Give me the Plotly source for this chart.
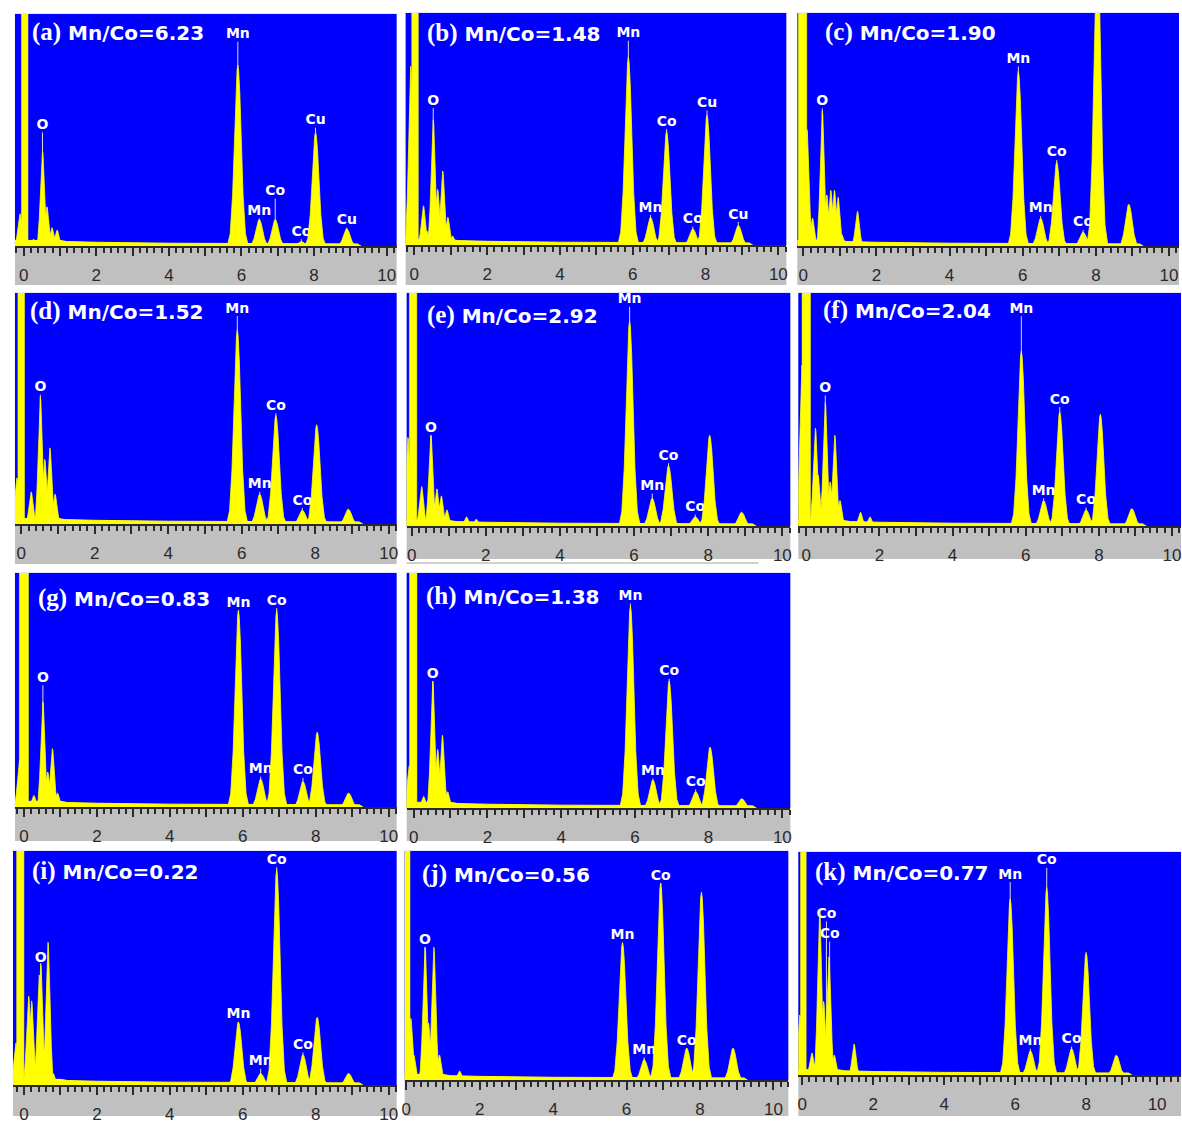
import plotly.graph_objects as go

# ---------------- data ----------------
PANEL_IDS = ["a", "b", "c", "d", "e", "f", "g", "h", "i", "j", "k"]
RATIOS = ["6.23", "1.48", "1.90", "1.52", "2.92", "2.04", "0.83", "1.38", "0.22", "0.56", "0.77"]

# x-axis tick labels (keV)
TICK_VALS = [0, 1, 2, 3, 4, 5, 6, 7, 8, 9, 10]
TICK_TEXT = ["0", "", "2", "", "4", "", "6", "", "8", "", "10"]

# zero-energy (noise) peak: centre and width in keV
ZERO_C = [0.03, 0.02, -0.02, 0.00, 0.04, 0.00, 0.00, -0.01, -0.10, 0.03, 0.03]
ZERO_W = [0.18, 0.18, 0.23, 0.18, 0.20, 0.23, 0.25, 0.20, 0.20, 0.14, 0.16]

# continuum background (keV, % of full scale)
BG_E = [-0.4, 1.0, 1.2, 2.0, 4.0, 5.6, 9.2, 9.3]
BG_H = [2.5, 2.5, 2.0, 1.7, 1.3, 1.2, 1.0, 0.0]

# peaks: energy (keV) and height (% of full scale) per panel
PEAK_E_A = [-0.10, 0.27, 0.52, 0.64, 0.78, 0.92, 5.90, 6.49, 6.93, 7.65, 8.04, 8.90]
PEAK_H_A = [14, 3, 41, 17, 8, 7, 78, 11.5, 11.5, 2, 49, 7.5]
PEAK_E_B = [-0.10, 0.25, 0.35, 0.52, 0.64, 0.78, 0.92, 1.05, 5.88, 6.49, 6.93, 7.65, 8.04, 8.90]
PEAK_H_B = [77, 17, 6, 54, 24, 32, 12, 4, 81, 12, 49, 7, 56, 8.5]
PEAK_E_C = [0.10, 0.25, 0.52, 0.64, 0.75, 0.85, 0.95, 1.05, 1.48, 5.88, 6.49, 6.93, 7.65, 8.04, 8.90]
PEAK_H_C = [50, 12, 58, 22, 24, 24, 21, 5, 15, 75, 12, 36, 6, 130, 18]
PEAK_E_D = [-0.12, 0.27, 0.52, 0.64, 0.78, 0.92, 5.88, 6.49, 6.93, 7.65, 8.04, 8.90]
PEAK_H_D = [20, 14, 55, 28, 33, 13, 84, 13, 47, 6, 43, 6.5]
PEAK_E_E = [-0.10, 0.27, 0.52, 0.68, 0.80, 0.95, 1.48, 1.74, 5.88, 6.49, 6.93, 7.65, 8.04, 8.90]
PEAK_H_E = [38, 17, 39, 16, 13, 7, 4, 3, 88, 12, 26, 4, 39, 6]
PEAK_E_F = [-0.12, 0.25, 0.32, 0.52, 0.65, 0.78, 0.92, 1.48, 1.74, 5.88, 6.49, 6.93, 7.65, 8.04, 8.90]
PEAK_H_F = [69, 42, 22, 53, 19, 39, 11, 6, 4, 75, 11, 49, 7, 48, 7.5]
PEAK_E_G = [-0.12, 0.27, 0.52, 0.65, 0.78, 0.92, 5.88, 6.49, 6.93, 7.65, 8.04, 8.90]
PEAK_H_G = [20, 5, 45, 15, 25, 6, 84, 12, 84, 11, 32, 6]
PEAK_E_H = [-0.12, 0.27, 0.52, 0.65, 0.78, 0.92, 5.88, 6.49, 6.93, 7.65, 8.04, 8.90]
PEAK_H_H = [18, 5, 54, 25, 31, 7, 86, 12, 54, 7, 26, 4]
PEAK_E_I = [-0.22, 0.13, 0.21, 0.42, 0.46, 0.56, 0.66, 0.80, 5.88, 6.49, 6.93, 7.65, 8.04, 8.90]
PEAK_H_I = [18, 38, 36, 47, 52, 15, 61, 5, 27, 5, 92, 13, 29, 5]
PEAK_E_J = [0.12, 0.20, 0.51, 0.60, 0.75, 0.90, 1.45, 5.89, 6.48, 6.93, 7.64, 8.04, 8.90]
PEAK_H_J = [27, 11, 58, 25, 58, 11, 4, 60, 9, 86, 14, 82, 14]
PEAK_E_K = [-0.07, 0.27, 0.49, 0.60, 0.75, 0.90, 1.46, 5.86, 6.43, 6.89, 7.59, 8.00, 8.85]
PEAK_H_K = [27, 10, 74, 33, 53, 9, 14, 79, 11, 84, 12, 55, 9]

# element marker labels: text, energy (keV), label height (% of full scale)
LAB_T_A = ["O", "Mn", "Mn", "Co", "Co", "Cu", "Cu"]
LAB_E_A = [0.52, 5.90, 6.49, 6.93, 7.65, 8.04, 8.90]
LAB_H_A = [52, 91, 15, 23.5, 6, 54, 11]
LAB_T_B = ["O", "Mn", "Mn", "Co", "Co", "Cu", "Cu"]
LAB_E_B = [0.52, 5.88, 6.49, 6.93, 7.65, 8.04, 8.90]
LAB_H_B = [62, 91, 16, 53, 11, 61, 13]
LAB_T_C = ["O", "Mn", "Mn", "Co", "Co"]
LAB_E_C = [0.52, 5.88, 6.49, 6.93, 7.65]
LAB_H_C = [62, 80, 16, 40, 10]
LAB_T_D = ["O", "Mn", "Mn", "Co", "Co"]
LAB_E_D = [0.52, 5.88, 6.49, 6.93, 7.65]
LAB_H_D = [59, 93, 17, 51, 10]
LAB_T_E = ["O", "Mn", "Mn", "Co", "Co"]
LAB_E_E = [0.52, 5.88, 6.49, 6.93, 7.65]
LAB_H_E = [42, 97, 17, 30, 8]
LAB_T_F = ["O", "Mn", "Mn", "Co", "Co"]
LAB_E_F = [0.52, 5.88, 6.49, 6.93, 7.65]
LAB_H_F = [59, 93, 15, 54, 11]
LAB_T_G = ["O", "Mn", "Mn", "Co", "Co"]
LAB_E_G = [0.52, 5.88, 6.49, 6.93, 7.65]
LAB_H_G = [55, 87, 16, 88, 15.5]
LAB_T_H = ["O", "Mn", "Mn", "Co", "Co"]
LAB_E_H = [0.52, 5.88, 6.49, 6.93, 7.65]
LAB_H_H = [57, 90, 15.5, 58, 11]
LAB_T_I = ["O", "Mn", "Mn", "Co", "Co"]
LAB_E_I = [0.46, 5.88, 6.49, 6.93, 7.65]
LAB_H_I = [54, 30, 10, 96, 17]
LAB_T_J = ["O", "Mn", "Mn", "Co", "Co"]
LAB_E_J = [0.51, 5.89, 6.48, 6.93, 7.64]
LAB_H_J = [61, 63, 13, 89, 17]
LAB_T_K = ["Co", "Co", "Mn", "Mn", "Co", "Co"]
LAB_E_K = [0.68, 0.77, 5.86, 6.43, 6.89, 7.59]
LAB_H_K = [72, 63, 89.6, 15, 96, 16]

PEAK_E = [PEAK_E_A, PEAK_E_B, PEAK_E_C, PEAK_E_D, PEAK_E_E, PEAK_E_F, PEAK_E_G, PEAK_E_H, PEAK_E_I, PEAK_E_J, PEAK_E_K]
PEAK_H = [PEAK_H_A, PEAK_H_B, PEAK_H_C, PEAK_H_D, PEAK_H_E, PEAK_H_F, PEAK_H_G, PEAK_H_H, PEAK_H_I, PEAK_H_J, PEAK_H_K]
LAB_T = [LAB_T_A, LAB_T_B, LAB_T_C, LAB_T_D, LAB_T_E, LAB_T_F, LAB_T_G, LAB_T_H, LAB_T_I, LAB_T_J, LAB_T_K]
LAB_E = [LAB_E_A, LAB_E_B, LAB_E_C, LAB_E_D, LAB_E_E, LAB_E_F, LAB_E_G, LAB_E_H, LAB_E_I, LAB_E_J, LAB_E_K]
LAB_H = [LAB_H_A, LAB_H_B, LAB_H_C, LAB_H_D, LAB_H_E, LAB_H_F, LAB_H_G, LAB_H_H, LAB_H_I, LAB_H_J, LAB_H_K]

# ---------------- layout / style ----------------
W, H = 1182, 1124
BLUE = "#0000FF"
YELLOW = "#FFFF00"
GRAY = "#C0C0C0"

# panel boxes in px: left, right, top, baseline, gray bottom, px of 0 keV, px of 10 keV
BOX = [
    (12, 395, 14, 248, 287, 20.7, 385),
    (404, 786, 13, 247, 287, 412.7, 778),
    (797, 1180, 13, 248, 287, 803, 1170),
    (12, 395, 295, 528, 568, 18.3, 387),
    (405, 790, 295, 530, 563, 410, 782),
    (798, 1182, 295, 530, 563, 806, 1173),
    (12, 395, 577, 813, 847, 21, 387),
    (405, 790, 577, 814, 847, 412, 782),
    (10, 395, 857, 1093, 1124, 21, 387),
    (403, 788, 857, 1088, 1124, 404.7, 773),
    (798, 1182, 858, 1083, 1124, 802, 1158),
]
# title offsets (px from panel left / top)
TITLE_OFF = [(15, 18), (19, 20), (26, 19), (13, 18), (18, 22), (23, 17),
             (21, 25), (17, 23), (17, 20), (15, 23), (15, 20)]

# peak profile (style of a spectral line)
PROFILE_DX = [-0.29, -0.21, -0.145, -0.095, -0.055, -0.022, 0, 0.022, 0.055, 0.095, 0.145, 0.21, 0.29]
PROFILE_REL = [0, 0.07, 0.28, 0.57, 0.84, 0.97, 1, 0.97, 0.84, 0.57, 0.28, 0.07, 0]

fig = go.Figure()
layout = dict(width=W, height=H, margin=dict(l=0, r=0, t=0, b=0),
              paper_bgcolor="white", plot_bgcolor=BLUE, showlegend=False)
shapes = []
annotations = []

for i, pid in enumerate(PANEL_IDS):
    left, right, top, base, gbot, x0, x10 = BOX[i]
    ppk = (x10 - x0) / 10.0
    xr = [(left - x0) / ppk, (right - x0) / ppk]
    ph = base - top
    xa = "x" if i == 0 else f"x{i+1}"
    ya = "y" if i == 0 else f"y{i+1}"
    xkey = "xaxis" if i == 0 else f"xaxis{i+1}"
    ykey = "yaxis" if i == 0 else f"yaxis{i+1}"

    layout[xkey] = dict(domain=[left / W, right / W], range=xr, anchor=ya,
                        showgrid=False, zeroline=False, showline=True,
                        linecolor="#2a2a2a", linewidth=2, mirror=False,
                        ticks="outside", tickvals=TICK_VALS, ticktext=TICK_TEXT,
                        ticklen=8, tickwidth=2, tickcolor="#2a2a2a",
                        ticklabelstandoff=4,
                        tickfont=dict(family="Liberation Sans", size=17, color="#2a2a2a"),
                        minor=dict(dtick=0.2, tick0=0, ticks="outside", ticklen=5,
                                   tickwidth=1.5, tickcolor="#2a2a2a", showgrid=False),
                        fixedrange=True)
    layout[ykey] = dict(domain=[1 - base / H, 1 - top / H], range=[0, 100], anchor=xa,
                        showgrid=False, zeroline=False, showline=False,
                        showticklabels=False, ticks="", fixedrange=True)

    # gray axis bar
    shapes.append(dict(type="rect", xref="paper", yref="paper", layer="below",
                       x0=left / W, x1=right / W, y0=1 - gbot / H, y1=1 - base / H,
                       fillcolor=GRAY, line=dict(width=0)))

    # marker lines + element labels (drawn beneath the spectrum)
    half_txt = 7.0 / ph * 100
    mx, my = [], []
    for e, hgt in zip(LAB_E[i], LAB_H[i]):
        mx += [e, e, None]
        my += [hgt - half_txt, 0, None]
    fig.add_trace(go.Scatter(x=mx, y=my, mode="lines", xaxis=xa, yaxis=ya,
                             line=dict(color="#d8d8d8", width=1), hoverinfo="skip"))
    fig.add_trace(go.Scatter(x=LAB_E[i], y=LAB_H[i], text=LAB_T[i], mode="text",
                             xaxis=xa, yaxis=ya, textposition="middle center",
                             textfont=dict(family="DejaVu Sans", size=14, color="white",
                                           weight="bold"),
                             hoverinfo="skip"))

    # background continuum
    fig.add_trace(go.Scatter(x=BG_E, y=BG_H, mode="lines", fill="tozeroy",
                             fillcolor=YELLOW, line=dict(color=YELLOW, width=1),
                             xaxis=xa, yaxis=ya, hoverinfo="skip"))

    # spectral peaks
    px_, py_ = [], []
    for e, hgt in zip(PEAK_E[i], PEAK_H[i]):
        s = 0.62 if e < 2 else 1.0
        px_ += [e + d * s for d in PROFILE_DX] + [None]
        py_ += [hgt * r for r in PROFILE_REL] + [None]
    fig.add_trace(go.Scatter(x=px_, y=py_, mode="lines", fill="toself",
                             fillcolor=YELLOW, line=dict(color=YELLOW, width=0.8),
                             xaxis=xa, yaxis=ya, hoverinfo="skip"))

    # zero-energy noise peak
    fig.add_trace(go.Scatter(x=[ZERO_C[i] - ZERO_W[i] / 2, ZERO_C[i] - ZERO_W[i] / 2,
                                ZERO_C[i] + ZERO_W[i] / 2, ZERO_C[i] + ZERO_W[i] / 2],
                             y=[0, 200, 200, 0], mode="lines", fill="toself",
                             fillcolor=YELLOW, line=dict(color=YELLOW, width=0.5),
                             xaxis=xa, yaxis=ya, hoverinfo="skip"))

    # panel title
    dx, dy = TITLE_OFF[i]
    annotations.append(dict(
        xref="paper", yref="paper", x=(left + dx) / W, y=1 - (top + dy) / H,
        xanchor="left", yanchor="middle", showarrow=False,
        text=(f"<b><span style='font-family:Liberation Serif;font-size:25px'>({pid})</span>"
              f" Mn/Co={RATIOS[i]}</b>"),
        font=dict(family="DejaVu Sans", size=20, color="white")))

# thin gray line under panel (e)
shapes.append(dict(type="rect", xref="paper", yref="paper", layer="below",
                   x0=405 / W, x1=758 / W, y0=1 - 568 / H, y1=1 - 566 / H,
                   fillcolor="#cfcfcf", line=dict(width=0)))

layout["shapes"] = shapes
layout["annotations"] = annotations
fig.update_layout(**layout)
fig.write_html("out.html",
               config={"displayModeBar": False},
               post_script="document.body.style.margin='0';"
                           "document.body.style.overflow='hidden';")
